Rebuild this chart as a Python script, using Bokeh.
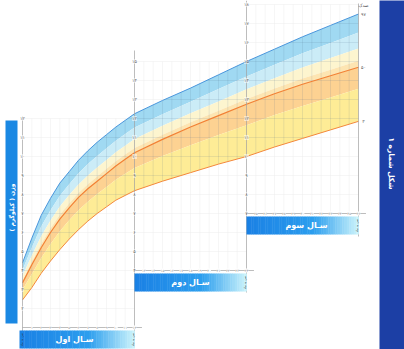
import numpy as np
from bokeh.plotting import figure
from bokeh.models import Range1d
from bokeh.embed import file_html
from bokeh.resources import INLINE
from bokeh.core.properties import value

# ---------------- data (weight in kg by age in months) ----------------
months = [0, 1, 2, 3, 4, 5, 6, 7, 8, 9, 10, 11, 12, 15, 18, 21, 24, 27, 30, 33, 36]
p97 = [4.4, 5.7, 6.9, 7.8, 8.6, 9.2, 9.8, 10.3, 10.75, 11.15, 11.55, 11.9, 12.25,
       12.95, 13.6, 14.3, 15.0, 15.65, 16.3, 16.9, 17.5]
band_blue = [4.03, 5.21, 6.31, 7.17, 7.94, 8.54, 9.12, 9.6, 10.03, 10.43, 10.83, 11.18, 11.53,
             12.23, 12.88, 13.55, 14.21, 14.83, 15.43, 15.97, 16.52]
band_lightblue = [3.72, 4.79, 5.8, 6.63, 7.37, 7.97, 8.53, 9.0, 9.42, 9.82, 10.22, 10.57, 10.92,
                  11.62, 12.27, 12.9, 13.54, 14.12, 14.68, 15.18, 15.68]
band_cream = [3.48, 4.47, 5.4, 6.22, 6.93, 7.53, 8.08, 8.54, 8.95, 9.35, 9.75, 10.1, 10.45,
              11.15, 11.8, 12.41, 13.02, 13.58, 14.1, 14.57, 15.04]
p50 = [3.35, 4.3, 5.2, 6.0, 6.7, 7.3, 7.85, 8.3, 8.7, 9.1, 9.5, 9.85, 10.2,
       10.9, 11.55, 12.15, 12.75, 13.3, 13.8, 14.25, 14.7]
band_orange = [2.99, 3.82, 4.66, 5.4, 6.06, 6.64, 7.17, 7.62, 8.02, 8.4, 8.78, 9.09, 9.4,
               10.02, 10.59, 11.13, 11.65, 12.18, 12.66, 13.11, 13.56]
p3 = [2.45, 3.1, 3.85, 4.5, 5.1, 5.65, 6.15, 6.6, 7.0, 7.35, 7.7, 7.95, 8.2,
      8.7, 9.15, 9.6, 10.0, 10.5, 10.95, 11.4, 11.85]

year_titles = ["سـال اول", "سـال دوم", "سـال سوم"]
panel_months = [(0, 12), (12, 24), (24, 36)]
panel_kg = [(1, 12), (4, 15), (7, 18)]
percentile_labels = ["۹۷", "۵۰", "۳"]
y_title = "وزن ( کیلوگرم )"
fig_title = "شکل شماره ۱"
age_label = "سن به ماه"
pct_title = "صدک"

FA = str.maketrans("0123456789", "۰۱۲۳۴۵۶۷۸۹")
def fa(n):
    return str(n).translate(FA)

# ---------------- layout helpers (pixel -> data) ----------------
def X(px):
    return (px - 22) * 12 / 112

def Y(py):
    return 2 + (308 - py) / 19

FONT = value("DejaVu Sans")

p = figure(width=404, height=349, x_range=Range1d(X(0), X(404)), y_range=Range1d(Y(349), Y(0)),
           output_backend="svg", toolbar_location=None, x_axis_location=None,
           y_axis_location=None, min_border=0)
p.grid.visible = False
p.outline_line_color = None
p.background_fill_color = "white"

# ---------------- faint grid everywhere ----------------
gx0, gy0, gx1, gy1 = [], [], [], []
for (m0, m1), (k0, k1) in zip(panel_months, panel_kg):
    for m in range(m0 + 1, m1):
        gx0.append(m); gx1.append(m); gy0.append(k0); gy1.append(k1)
    for k in range(k0 + 1, k1 + 1):
        gx0.append(m0); gx1.append(m1); gy0.append(k); gy1.append(k)
p.segment(x0=gx0, y0=gy0, x1=gx1, y1=gy1, line_color="#ececec", line_width=0.5)

# ---------------- percentile bands ----------------
layers = [
    (p97, band_blue, "#a0d9f2"),
    (band_blue, band_lightblue, "#cbecf7"),
    (band_lightblue, band_cream, "#fdf5cf"),
    (band_cream, p50, "#fde5b2"),
    (p50, band_orange, "#fdd292"),
    (band_orange, p3, "#feec96"),
]
for upper, lower, col in layers:
    p.varea(x=months, y1=lower, y2=upper, fill_color=col)

# ---------------- darker grid inside the bands ----------------
dx0, dy0, dx1, dy1 = [], [], [], []
for (m0, m1), (k0, k1) in zip(panel_months, panel_kg):
    for m in range(m0 + 1, m1):
        lo = max(k0, float(np.interp(m, months, p3)))
        hi = min(k1, float(np.interp(m, months, p97)))
        if hi > lo:
            dx0.append(m); dx1.append(m); dy0.append(lo); dy1.append(hi)
    for k in range(k0 + 1, k1 + 1):
        a = max(m0, float(np.interp(k, p97, months)))
        b = min(m1, float(np.interp(k, p3, months)))
        if b > a:
            dx0.append(a); dx1.append(b); dy0.append(k); dy1.append(k)
p.segment(x0=dx0, y0=dy0, x1=dx1, y1=dy1, line_color="#4f6f88", line_alpha=0.22, line_width=0.6)

# ---------------- percentile lines ----------------
p.line(months, p97, line_color="#4a96dc", line_width=1.0)
p.line(months, p50, line_color="#f28034", line_width=1.2)
p.line(months, p3, line_color="#f4883c", line_width=1.0)

# ---------------- panel axes ----------------
ax_x0, ax_y0, ax_x1, ax_y1 = [], [], [], []
vb = [(0, Y(345), Y(116)), (12, Y(347), Y(50)), (24, Y(292), Y(0)), (36, Y(236), Y(3))]
for m, a, b in vb:
    ax_x0.append(m); ax_x1.append(m); ax_y0.append(a); ax_y1.append(b)
for (m0, m1), (k0, k1) in zip(panel_months, panel_kg):
    ax_x0.append(m0); ax_x1.append(m1 + 0.8); ax_y0.append(k0); ax_y1.append(k0)
p.segment(x0=ax_x0, y0=ax_y0, x1=ax_x1, y1=ax_y1, line_color="#a0a0a0", line_width=0.7)

# kg tick labels on each panel's left axis
tx, ty, tt = [], [], []
for i, ((m0, m1), (k0, k1)) in enumerate(zip(panel_months, panel_kg)):
    start = k0 + 1 if i == 0 else k0
    for k in range(start, k1 + 1):
        tx.append(m0); ty.append(k); tt.append(fa(k))
p.text(x=tx, y=ty, text=tt, text_font=FONT, text_font_size="4.5px", text_color="#666666",
       text_align="center", text_baseline="middle", background_fill_color="white",
       background_fill_alpha=0.5)

# month tick labels on each panel's bottom axis
mx, my, mt = [], [], []
for (m0, m1), (k0, k1) in zip(panel_months, panel_kg):
    for m in range(m0 + 1, m1 + 1):
        mx.append(m); my.append(k0); mt.append(fa(m))
p.text(x=mx, y=my, text=mt, text_font=FONT, text_font_size="3.5px", text_color="#888888",
       text_align="center", text_baseline="middle", background_fill_color="white")

# percentile labels at right
pl_x = [X(363)] * 4
pl_y = [Y(5), p97[-1], p50[-1], p3[-1]]
p.text(x=pl_x, y=pl_y, text=[pct_title] + percentile_labels, text_font=FONT,
       text_font_size="4.5px", text_color="#555555", text_align="center", text_baseline="middle")

# ---------------- year boxes with gradient ----------------
def grad(t):
    stops = [(0.0, (26, 128, 228)), (0.6, (44, 158, 238)), (1.0, (205, 244, 251))]
    for (t0, c0), (t1, c1) in zip(stops[:-1], stops[1:]):
        if t <= t1:
            f = (t - t0) / (t1 - t0)
            c = [int(round(c0[j] + f * (c1[j] - c0[j]))) for j in range(3)]
            return "#%02x%02x%02x" % tuple(c)
    return "#%02x%02x%02x" % stops[-1][1]

boxes_px = [(19, 134, 330, 348), (134, 246, 273, 291), (246, 358, 216, 234)]
title_px = [74, 190, 306]
n = 48
ql, qr, qt, qb, qc = [], [], [], [], []
for (L, R, T, B) in boxes_px:
    w = (R - L) / n
    for s in range(n):
        ql.append(X(L + s * w)); qr.append(X(L + (s + 1) * w + 0.4))
        qt.append(Y(T)); qb.append(Y(B)); qc.append(grad((s + 0.5) / n))
p.quad(left=ql, right=qr, top=qt, bottom=qb, fill_color=qc, line_color=None)
p.text(x=[X(c) for c in title_px], y=[Y((b[2] + b[3]) / 2) for b in boxes_px], text=year_titles,
       text_font=FONT, text_font_size="8px", text_font_style="bold", text_color="white",
       text_align="center", text_baseline="middle")
p.text(x=[X(b[1] - 2) for b in boxes_px] + [X(21)],
       y=[Y((b[2] + b[3]) / 2) for b in boxes_px] + [Y(339)],
       text=[age_label] * 4, angle=np.pi / 2, text_font=FONT, text_font_size="3px",
       text_color="#333333", text_align="center", text_baseline="middle")

# ---------------- left title box ----------------
p.quad(left=[X(5)], right=[X(17)], top=[Y(120)], bottom=[Y(323)], fill_color="#1a88e3", line_color=None)
p.text(x=[X(11)], y=[Y(207)], text=[y_title], angle=np.pi / 2, text_font=FONT, text_font_size="6px",
       text_font_style="bold", text_color="white", text_align="center", text_baseline="middle")

# ---------------- right strip ----------------
p.quad(left=[X(379)], right=[X(405)], top=[Y(-1)], bottom=[Y(350)], fill_color="#1c3fa5", line_color=None)
p.text(x=[X(391)], y=[Y(163)], text=[fig_title], angle=-np.pi / 2, text_font=FONT, text_font_size="7.5px",
       text_font_style="bold", text_color="white", text_align="center", text_baseline="middle")

open("out.html", "w").write(file_html(p, INLINE))
